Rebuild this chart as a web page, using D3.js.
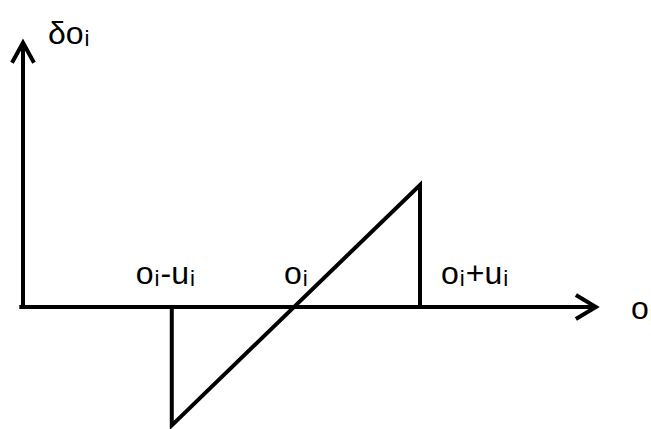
<!DOCTYPE html>
<html>
<head>
<meta charset="utf-8">
<script src="https://cdn.jsdelivr.net/npm/d3@7"></script>
<style>
  body { margin: 0; background: #fff; overflow: hidden; }
</style>
</head>
<body>
<svg class="diagram"></svg>
<script>
width = 651;
height = 429;

// o_i - u_i, o_i, o_i + u_i on the o axis; delta o_i on the vertical axis
xValues = [-0.97, 0, 1];
deltaValues = [-0.97, 0, 1];
xAxisDomain = [-2.18, 2.38];
yAxisDomain = [0, 2.15];

// label parts: [text, isSubscript]
labels = [
    {at: -0.97, parts: [["o", 0], ["i", 1], ["-u", 0], ["i", 1]]},
    {at: 0, parts: [["o", 0], ["i", 1]]},
    {at: 1, parts: [["o", 0], ["i", 1], ["+u", 0], ["i", 1]]}
];
axisLabelX = [["o", 0], ["i", 1]];
axisLabelY = [["δ", 0], ["o", 0], ["i", 1]];

fontFamily = "'Liberation Sans', Arial, Helvetica, sans-serif";

svg = d3.select("svg.diagram")
    .attr("width", width)
    .attr("height", height)
    .style("display", "block");

x = d3.scaleLinear().domain([0, 1]).range([294, 420]);
y = d3.scaleLinear().domain([0, 1]).range([307, 185]);

stroke = 4;

// axes
svg.append("line")
    .attr("x1", x(xAxisDomain[0])).attr("x2", x(xAxisDomain[1]))
    .attr("y1", y(0)).attr("y2", y(0))
    .attr("stroke", "#000").attr("stroke-width", stroke);
svg.append("line")
    .attr("x1", 23).attr("x2", 23)
    .attr("y1", y(0) + stroke / 2).attr("y2", y(yAxisDomain[1]))
    .attr("stroke", "#000").attr("stroke-width", stroke);

// open arrow heads
tipX = x(xAxisDomain[1]) + 2;
svg.append("path")
    .attr("d", d3.line()([[tipX - 20, y(0) - 12], [tipX, y(0)], [tipX - 20, y(0) + 12]]))
    .attr("fill", "none").attr("stroke", "#000").attr("stroke-width", stroke);
tipY = y(yAxisDomain[1]) - 2;
svg.append("path")
    .attr("d", d3.line()([[12, tipY + 20], [23, tipY], [34, tipY + 20]]))
    .attr("fill", "none").attr("stroke", "#000").attr("stroke-width", stroke);

// the sawtooth: drop at o_i-u_i, rise through o_i, back at o_i+u_i
pts = [
    [xValues[0], 0],
    [xValues[0], deltaValues[0]],
    [xValues[2], deltaValues[2]],
    [xValues[2], 0]
];
svg.append("path")
    .attr("d", d3.line().x(d => x(d[0])).y(d => y(d[1]))(pts))
    .attr("fill", "none").attr("stroke", "#000").attr("stroke-width", stroke)
    .attr("stroke-linejoin", "miter");

function addLabel(px, py, parts, size) {
    t = svg.append("text").attr("x", px).attr("y", py)
        .attr("font-family", fontFamily)
        .attr("font-size", size)
        .attr("fill", "#000");
    parts.forEach((p, i) => {
        s = t.append("tspan").text(p[0]);
        if (p[1]) {
            s.attr("font-size", size * 0.7).attr("dy", 2).attr("dx", 1);
        } else if (i > 0 && parts[i - 1][1]) {
            s.attr("dy", -2).attr("dx", 1);
        }
    });
    return t;
}

addLabel(x(labels[0].at) - 36, 284, labels[0].parts, 32);
addLabel(x(labels[1].at) - 10, 284, labels[1].parts, 32);
addLabel(x(labels[2].at) + 21, 284, labels[2].parts, 32);
addLabel(631, 319, axisLabelX, 32);
addLabel(48, 44, axisLabelY, 32);
</script>
</body>
</html>
